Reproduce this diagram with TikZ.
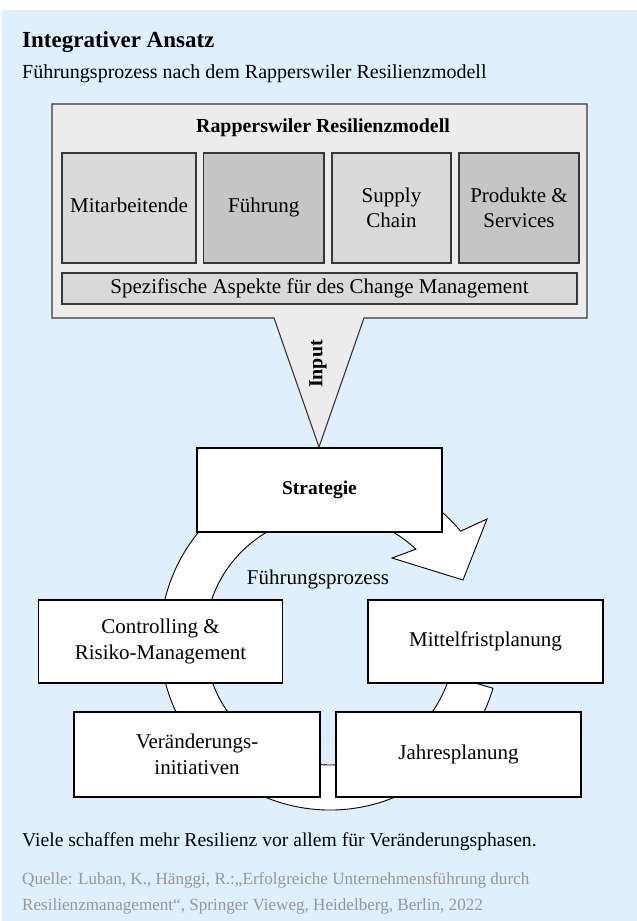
\documentclass[tikz,border=0pt]{standalone}
\usepackage{fontspec}
\setmainfont{Liberation Serif}
\usetikzlibrary{calc}
\definecolor{paneblue}{RGB}{223,240,252}
\definecolor{modelgray}{RGB}{236,236,236}
\definecolor{lightgray}{RGB}{217,217,217}
\definecolor{midgray}{RGB}{197,197,197}
\definecolor{framegray}{RGB}{55,55,55}
\definecolor{sourcegray}{RGB}{150,150,150}
\begin{document}
\begin{tikzpicture}[x=1pt,y=-1pt,
  txt/.style={font=\fontsize{21}{25.5}\selectfont},
  plain/.style={anchor=base west,inner sep=0pt},
  oneline/.style={text height=14pt,text depth=4.5pt},
  pillar/.style={draw=framegray,line width=1.1pt,inner sep=0pt,align=center,
    minimum height=110pt,txt},
  stage/.style={draw=black,line width=1.2pt,fill=white,inner sep=0pt,align=center,
    minimum height=84pt,txt}]
\useasboundingbox (0,0) rectangle (637,921);
\fill[paneblue] (2,10) rectangle (637,921);

\node[plain,font=\fontsize{23}{27}\selectfont\bfseries] (title) at (22,47) {Integrativer Ansatz};
\node[plain,font=\fontsize{20}{24}\selectfont] (subtitle) at (22,78) {Führungsprozess nach dem Rapperswiler Resilienzmodell};

% circular arrow behind the stages
\coordinate (hub) at (330,640);
\draw[fill=white,line width=0.9pt] ($(hub)+(16.5:170)$) arc[start angle=16.5,end angle=320.2,radius=170]
  -- (487,519) -- (463,580) -- (392,558) -- ($(hub)+(313.4:125)$)
  arc[start angle=313.4,end angle=16.5,radius=125] -- cycle;

% model box with the input wedge
\draw[fill=modelgray,draw=framegray,line width=1.1pt] (52,104) -- (587,104) -- (587,318) -- (364,318)
  -- (319,447) -- (274,318) -- (52,318) -- cycle;
\node[font=\fontsize{19.9}{24}\selectfont\bfseries] (model) at (323,128) {Rapperswiler Resilienzmodell};
\node[pillar,oneline,fill=lightgray,minimum width=134pt] (staff) at (129,208) {Mitarbeitende};
\node[pillar,oneline,fill=midgray,minimum width=120.5pt] (lead) at (263.75,208) {Führung};
\node[pillar,fill=lightgray,minimum width=119pt] (supply) at (391.5,208) {Supply\\Chain};
\node[pillar,fill=midgray,minimum width=120pt] (products) at (519,208) {Produkte \&\\Services};
\node[pillar,oneline,fill=lightgray,minimum width=515pt,minimum height=31pt] (aspects) at (319.5,288.5) {Spezifische Aspekte für des Change Management};
\node[rotate=90,font=\fontsize{20}{24}\selectfont\bfseries] (input) at (318,364) {Input};

% process stages
\node[stage,oneline,minimum width=245pt,font=\fontsize{19.5}{24}\selectfont\bfseries] (strategy) at (319.5,490) {Strategie};
\node[stage,minimum width=244pt,minimum height=83pt] (control) at (160.5,641.5) {Controlling \&\\Risiko-Management};
\node[stage,oneline,minimum width=235pt,minimum height=83pt] (midterm) at (485.5,641.5) {Mittelfristplanung};
\node[stage,minimum width=246pt,minimum height=85pt] (change) at (197,754.5) {Veränderungs-\\initiativen};
\node[stage,oneline,minimum width=245pt,minimum height=85pt] (annual) at (458.5,754.5) {Jahresplanung};
\node[txt,oneline] (process) at (318,580) {Führungsprozess};

\node[plain,font=\fontsize{19.6}{24}\selectfont] (note) at (22,846) {Viele schaffen mehr Resilienz vor allem für Veränderungsphasen.};
\node[plain,font=\fontsize{17.1}{21}\selectfont,text=sourcegray] (source) at (22,884) {Quelle: Luban, K., Hänggi, R.:„Erfolgreiche Unternehmensführung durch};
\node[plain,font=\fontsize{17.1}{21}\selectfont,text=sourcegray] (source2) at (22,910) {Resilienzmanagement“, Springer Vieweg, Heidelberg, Berlin, 2022};
\end{tikzpicture}
\end{document}
